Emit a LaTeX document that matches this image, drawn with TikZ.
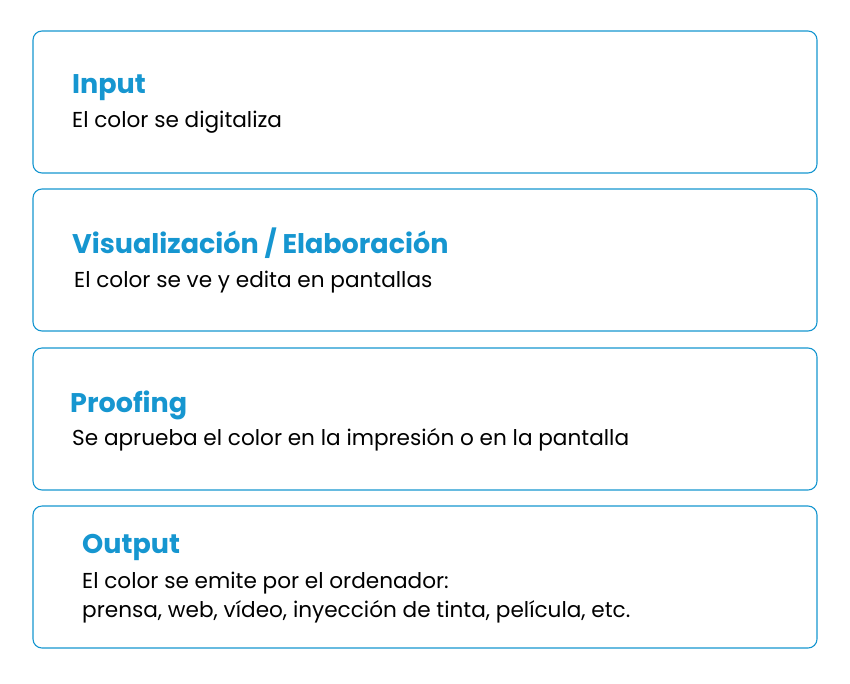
\documentclass[tikz,border=0pt]{standalone}
\usepackage{fontspec}
\setmainfont{Poppins}
\definecolor{accent}{RGB}{22,150,208}
\begin{document}
\begin{tikzpicture}[x=1pt,y=-1pt,
  box/.style={draw=accent, line width=1.1pt, rounded corners=9pt, minimum width=784pt, minimum height=142pt, inner sep=0pt},
  ttl/.style={anchor=base west, inner sep=0pt, text=accent, font=\fontsize{27}{32}\selectfont\bfseries},
  bdy/.style={anchor=base west, inner sep=0pt, text=black, font=\fontsize{21.6}{29}\selectfont, align=left}]
\useasboundingbox (0,0) rectangle (850,683);
\node[box] (b1) at (425,102) {};
\node[box] (b2) at (425,260) {};
\node[box] (b3) at (425,419) {};
\node[box] (b4) at (425,577) {};
\node[ttl] (t1) at (72,93) {Input};
\node[bdy] (d1) at (72,127) {El color se digitaliza};
\node[ttl] (t2) at (72,253) {Visualización / Elaboración};
\node[bdy] (d2) at (74,287) {El color se ve y edita en pantallas};
\node[ttl] (t3) at (70,412) {Proofing};
\node[bdy] (d3) at (72,445) {Se aprueba el color en la impresión o en la pantalla};
\node[ttl] (t4) at (82,553) {Output};
\node[bdy] (d4) at (82,617) {El color se emite por el ordenador:\\prensa, web, vídeo, inyección de tinta, película, etc.};
\end{tikzpicture}
\end{document}
